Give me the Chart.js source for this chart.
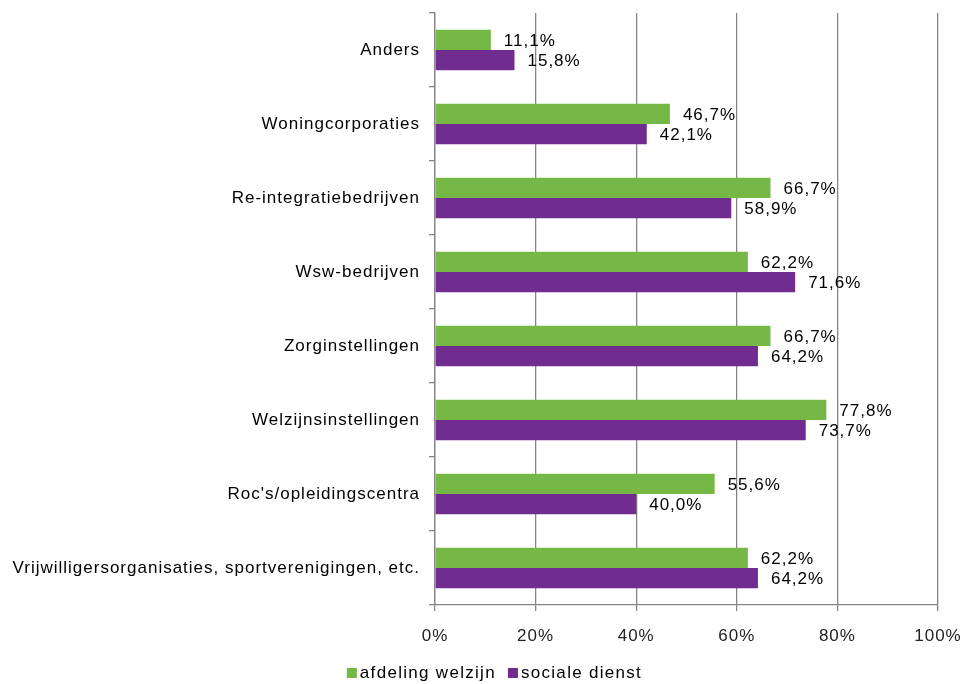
<!DOCTYPE html>
<html>
<head>
<meta charset="utf-8">
<script src="https://cdn.jsdelivr.net/npm/chart.js@4/dist/chart.umd.min.js"></script>
<style>
  html, body { margin: 0; padding: 0; background: #fff; }
  #wrap { width: 969px; height: 684px; }
</style>
</head>
<body>
<div id="wrap"><canvas id="chart" width="969" height="684"></canvas></div>
<script>
const categories = [
  "Anders",
  "Woningcorporaties",
  "Re-integratiebedrijven",
  "Wsw-bedrijven",
  "Zorginstellingen",
  "Welzijnsinstellingen",
  "Roc's/opleidingscentra",
  "Vrijwilligersorganisaties, sportverenigingen, etc."
];
const welzijn = [11.1, 46.7, 66.7, 62.2, 66.7, 77.8, 55.6, 62.2];
const socialeDienst = [15.8, 42.1, 58.9, 71.6, 64.2, 73.7, 40.0, 64.2];
const xTicks = [0, 20, 40, 60, 80, 100];

const FONT = "'Liberation Sans', Arial, sans-serif";

// wider letter spacing like the original export
const spacing = {
  id: "spacing",
  beforeDraw(chart) { chart.ctx.letterSpacing = "1px"; }
};

// value labels right of each bar
const valueLabels = {
  id: "valueLabels",
  afterDatasetsDraw(chart) {
    const ctx = chart.ctx;
    ctx.save();
    ctx.font = "17px " + FONT;
    ctx.fillStyle = "#000";
    ctx.textAlign = "left";
    ctx.textBaseline = "middle";
    chart.data.datasets.forEach((ds, i) => {
      chart.getDatasetMeta(i).data.forEach((bar, j) => {
        const txt = ds.data[j].toFixed(1).replace(".", ",") + "%";
        ctx.fillText(txt, bar.x + 13, bar.y + 1);
      });
    });
    ctx.restore();
  }
};

// legend at the bottom: small square, tight gap, text
const bottomLegend = {
  id: "bottomLegend",
  afterDraw(chart) {
    const ctx = chart.ctx;
    ctx.save();
    ctx.font = "17px " + FONT;
    ctx.letterSpacing = "1.3px";
    ctx.textBaseline = "middle";
    ctx.textAlign = "left";
    const box = 10, gap = 3, between = 12;
    const items = chart.data.datasets.map((ds) => ({
      label: ds.label, color: ds.backgroundColor,
      w: box + gap + ctx.measureText(ds.label).width
    }));
    const total = items.reduce((a, it) => a + it.w, 0) + between * (items.length - 1);
    let x = chart.width / 2 + 10 - total / 2;
    const y = 673;
    items.forEach((it) => {
      ctx.fillStyle = it.color;
      ctx.fillRect(x, y - 5, box, box);
      ctx.fillStyle = "#000";
      ctx.fillText(it.label, x + box + gap, y);
      x += it.w + between;
    });
    ctx.restore();
  }
};

new Chart(document.getElementById("chart"), {
  type: "bar",
  data: {
    labels: categories,
    datasets: [
      {
        label: "afdeling welzijn",
        data: welzijn,
        backgroundColor: "#76b845",
        barPercentage: 1,
        categoryPercentage: 0.55
      },
      {
        label: "sociale dienst",
        data: socialeDienst,
        backgroundColor: "#702c8e",
        barPercentage: 1,
        categoryPercentage: 0.55
      }
    ]
  },
  options: {
    indexAxis: "y",
    responsive: false,
    animation: false,
    layout: { padding: { top: 13, right: 31, left: 0, bottom: 0 } },
    plugins: {
      tooltip: { enabled: false },
      legend: { display: false }
    },
    scales: {
      x: {
        min: 0,
        max: 100,
        afterBuildTicks: (s) => { s.ticks = xTicks.map((v) => ({ value: v })); },
        afterFit: (s) => { s.height = 79; s.paddingLeft = 0; s.paddingRight = 0; },
        ticks: {
          callback: (v) => v + "%",
          font: { family: FONT, size: 17 },
          color: "#222",
          padding: 15
        },
        grid: { color: "#858585", lineWidth: 1.3, tickLength: 6 },
        border: { color: "#858585", width: 1.3 }
      },
      y: {
        afterFit: (s) => { s.width = 435; s.paddingTop = 0; s.paddingBottom = 0; },
        ticks: {
          font: { family: FONT, size: 17 },
          color: "#000",
          padding: 9
        },
        grid: { offset: true, drawOnChartArea: false, color: "#858585", lineWidth: 1.3, tickLength: 6 },
        border: { color: "#858585", width: 1.3 }
      }
    }
  },
  plugins: [spacing, valueLabels, bottomLegend]
});
</script>
</body>
</html>
